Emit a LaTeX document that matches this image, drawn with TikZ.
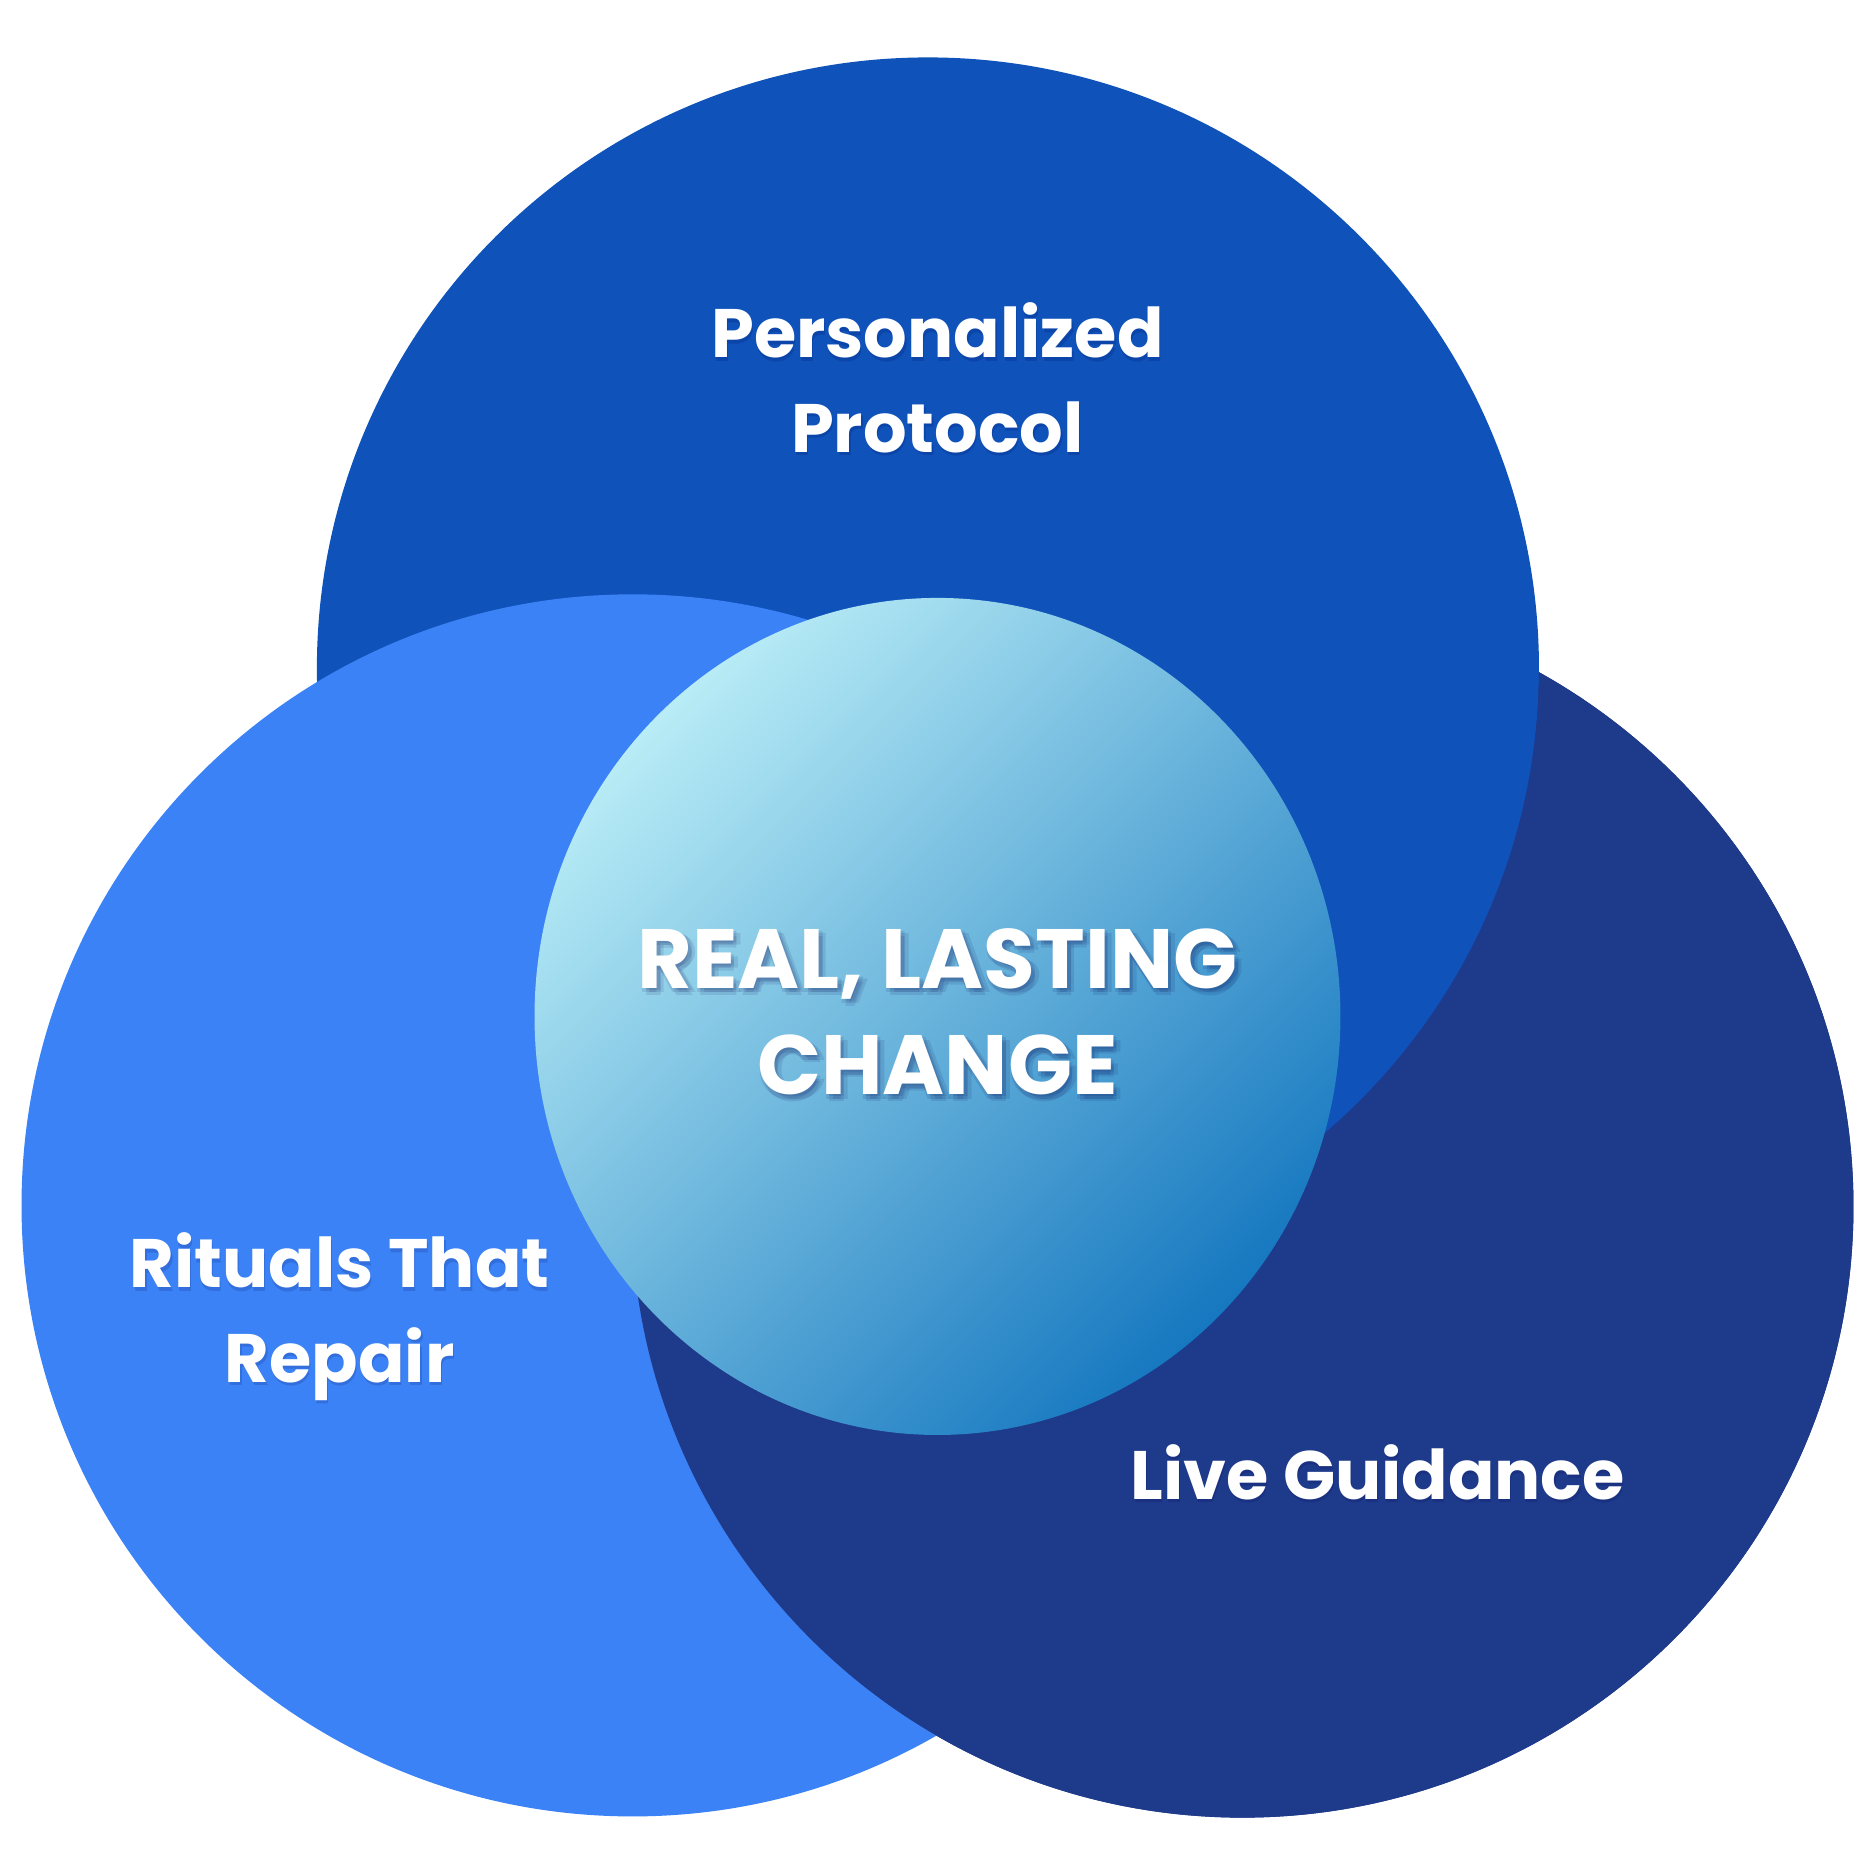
\documentclass[tikz,border=0pt]{standalone}
\usepackage{fontspec}
\setmainfont{Poppins}
\usepackage{tikz}
\usetikzlibrary{calc}
\definecolor{protoblue}{RGB}{15,82,186}
\definecolor{ritualblue}{RGB}{59,130,246}
\definecolor{guidenavy}{RGB}{30,58,138}
\definecolor{changelight}{RGB}{184,236,246}
\definecolor{changedark}{RGB}{22,120,192}

\begin{document}
\begin{tikzpicture}[x=0.01cm, y=-0.01cm,
    lbl/.style={text=white, align=center, inner sep=0pt,
      font=\fontsize{16.3}{22.4}\selectfont\bfseries},
    bigtext/.style={text=white, align=center, inner sep=0pt,
      font=\fontsize{20}{25.3}\selectfont\bfseries},
    shadowtext/.style={text=black!70!blue, opacity=#1}]
  % Background
  \fill[white] (0,0) rectangle (1568,1568);
  % Circle centres
  \coordinate (cproto) at (776,559);
  \coordinate (critual) at (529,1008);
  \coordinate (cguide) at (1039,1009);
  \coordinate (cchange) at (784,850);

  % Circles (each one overlaps the next in turn)
  \fill[guidenavy] (cguide) circle[radius=511];
  \fill[protoblue] (cproto) circle[radius=511];
  \fill[ritualblue] (critual) circle[radius=511];
  \begin{scope}[even odd rule]
    \clip (0,0) rectangle (1568,1568) (cproto) circle[radius=511];
    \fill[guidenavy] (cguide) circle[radius=511];
  \end{scope}

  % Centre
  \shade[top color=changelight, bottom color=changedark, shading angle=45]
    (cchange) ellipse[x radius=337, y radius=350];

  % Labels
  \coordinate (pproto) at (784,316);
  \coordinate (pritual) at (284,1101);
  \coordinate (pguide) at (1152,1231);
  \foreach \nm/\txt in {proto/{Personalized\\Protocol},
      ritual/{Rituals That\\Repair}, guide/{Live Guidance}} {
    \node[lbl, shadowtext=0.15] at ($(p\nm)+(1,3)$) {\txt};
    \node[lbl] (\nm) at (p\nm) {\txt};
  }

  % Centre text with soft shadow
  \coordinate (pchange) at (784,846);
  \foreach \dx/\dy in {3/6, 0/4, 6/4, 3/2} {
    \node[bigtext, shadowtext=0.1] at ($(pchange)+(\dx,\dy)$)
      {REAL, LASTING\\CHANGE};
  }
  \node[bigtext] (change) at (pchange) {REAL, LASTING\\CHANGE};
\end{tikzpicture}
\end{document}
